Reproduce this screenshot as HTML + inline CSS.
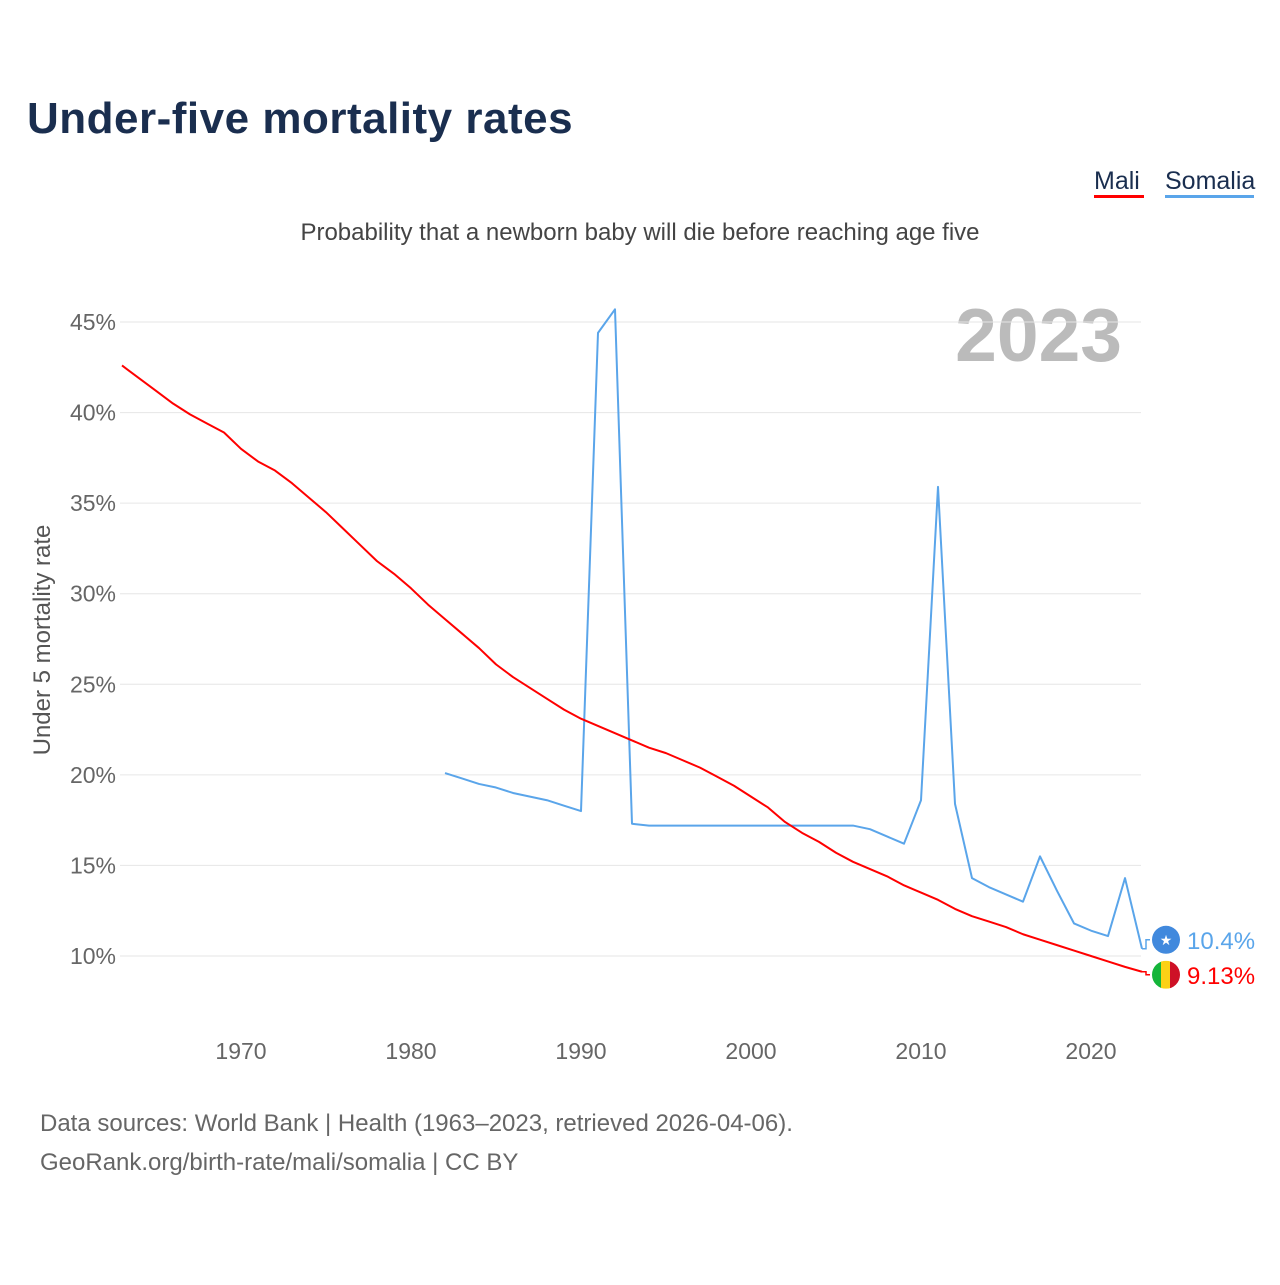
<!DOCTYPE html>
<html><head><meta charset="utf-8"><style>
body{margin:0;background:#fff;font-family:"Liberation Sans",sans-serif;}
</style></head><body>
<svg width="1280" height="1280" xmlns="http://www.w3.org/2000/svg" font-family="Liberation Sans, sans-serif">
<rect width="1280" height="1280" fill="#fff"/>
<text x="27" y="133" font-size="44" font-weight="bold" fill="#1a2e4f" letter-spacing="0.5">Under-five mortality rates</text>
<g>
<text x="1094" y="189" font-size="25" fill="#1a2e4f">Mali</text>
<rect x="1094" y="195" width="50" height="3" fill="#ff0000"/>
<text x="1165" y="189" font-size="25" fill="#1a2e4f">Somalia</text>
<rect x="1165" y="195" width="89" height="3" fill="#5aa5ea"/>
</g>
<text x="640" y="240" font-size="24" fill="#444" text-anchor="middle">Probability that a newborn baby will die before reaching age five</text>
<text x="1122" y="361" font-size="75" font-weight="bold" fill="#bbb" text-anchor="end">2023</text>
<text transform="translate(50,640) rotate(-90)" font-size="24" fill="#555" text-anchor="middle">Under 5 mortality rate</text>
<g id="grid"></g><g id="series"></g>
<text x="40" y="1131" font-size="24" fill="#666">Data sources: World Bank | Health (1963–2023, retrieved 2026-04-06).</text>
<text x="40" y="1170" font-size="24" fill="#666">GeoRank.org/birth-rate/mali/somalia | CC BY</text>
</svg>
<script>
const yTicks=[10,15,20,25,30,35,40,45];
const xTicks=[1970,1980,1990,2000,2010,2020];
const maliYears=[1963,1964,1965,1966,1967,1968,1969,1970,1971,1972,1973,1974,1975,1976,1977,1978,1979,1980,1981,1982,1983,1984,1985,1986,1987,1988,1989,1990,1991,1992,1993,1994,1995,1996,1997,1998,1999,2000,2001,2002,2003,2004,2005,2006,2007,2008,2009,2010,2011,2012,2013,2014,2015,2016,2017,2018,2019,2020,2021,2022,2023];
const maliValues=[42.6,41.9,41.2,40.5,39.9,39.4,38.9,38.0,37.3,36.8,36.1,35.3,34.5,33.6,32.7,31.8,31.1,30.3,29.4,28.6,27.8,27.0,26.1,25.4,24.8,24.2,23.6,23.1,22.7,22.3,21.9,21.5,21.2,20.8,20.4,19.9,19.4,18.8,18.2,17.4,16.8,16.3,15.7,15.2,14.8,14.4,13.9,13.5,13.1,12.6,12.2,11.9,11.6,11.2,10.9,10.6,10.3,10.0,9.7,9.4,9.13];
const somaliaYears=[1982,1983,1984,1985,1986,1987,1988,1989,1990,1991,1992,1993,1994,1995,1996,1997,1998,1999,2000,2001,2002,2003,2004,2005,2006,2007,2008,2009,2010,2011,2012,2013,2014,2015,2016,2017,2018,2019,2020,2021,2022,2023];
const somaliaValues=[20.1,19.8,19.5,19.3,19.0,18.8,18.6,18.3,18.0,44.4,45.7,17.3,17.2,17.2,17.2,17.2,17.2,17.2,17.2,17.2,17.2,17.2,17.2,17.2,17.2,17.0,16.6,16.2,18.6,35.9,18.4,14.3,13.8,13.4,13.0,15.5,13.6,11.8,11.4,11.1,14.3,10.4];
const NS="http://www.w3.org/2000/svg";
const X=y=>241+(y-1970)*17;
const Y=v=>956-(v-10)*18.114;
const grid=document.getElementById('grid'),ser=document.getElementById('series');
function mk(t,a,p){const e=document.createElementNS(NS,t);for(const k in a)e.setAttribute(k,a[k]);p.appendChild(e);return e;}
yTicks.forEach(v=>{
 const l=mk('line',{x1:120,x2:1141,y1:Y(v),y2:Y(v),stroke:'#e6e6e6','stroke-width':1},grid);
 
 
 const t=mk('text',{x:116,y:Y(v)+8,'font-size':23,fill:'#666','text-anchor':'end'},grid);t.textContent=v+'%';
 
 
});
xTicks.forEach(v=>{
 const t=mk('text',{x:X(v),y:1059,'font-size':23,fill:'#666','text-anchor':'middle'},grid);t.textContent=v;
 
 
});
function line(xs,vs,c,name){
 const p=mk('polyline',{points:xs.map((x,i)=>X(x)+','+Y(vs[i])).join(' '),fill:'none',stroke:c,'stroke-width':2,'stroke-linejoin':'round'},ser);
 
 
}
line(somaliaYears,somaliaValues,'#5aa5ea','somalia-line');
line(maliYears,maliValues,'#ff0000','mali-line');
const sl=somaliaValues[somaliaValues.length-1],ml=maliValues[maliValues.length-1];
const sy=Y(sl)-9,my=Y(ml)+3;
mk('path',{d:`M${X(2023)} ${Y(sl)} H1146 V${sy} H1150`,stroke:'#5aa5ea','stroke-width':1.5,fill:'none'},ser);
mk('path',{d:`M${X(2023)} ${Y(ml)} H1146 V${my} H1150`,stroke:'#ff0000','stroke-width':1.5,fill:'none'},ser);
const f1=mk('circle',{cx:1166,cy:sy,r:14,fill:'#4189dd'},ser);


const st=mk('text',{x:1166,y:sy+5,'font-size':14,fill:'#fff','text-anchor':'middle'},ser);st.textContent='★';
const g=mk('g',{},ser);


mk('clipPath',{id:'mc'},g);mk('circle',{cx:1166,cy:my,r:14},document.getElementById('mc'));
mk('rect',{x:1152,y:my-14,width:10,height:28,fill:'#14b53a','clip-path':'url(#mc)'},g);
mk('rect',{x:1161,y:my-14,width:10,height:28,fill:'#fcd116','clip-path':'url(#mc)'},g);
mk('rect',{x:1170,y:my-14,width:10,height:28,fill:'#ce1126','clip-path':'url(#mc)'},g);
const t1=mk('text',{x:1187,y:sy+9,'font-size':24,fill:'#5aa5ea'},ser);t1.textContent=sl+'%';


const t2=mk('text',{x:1187,y:my+9,'font-size':24,fill:'#ff0000'},ser);t2.textContent=ml+'%';


</script>
</body></html>
